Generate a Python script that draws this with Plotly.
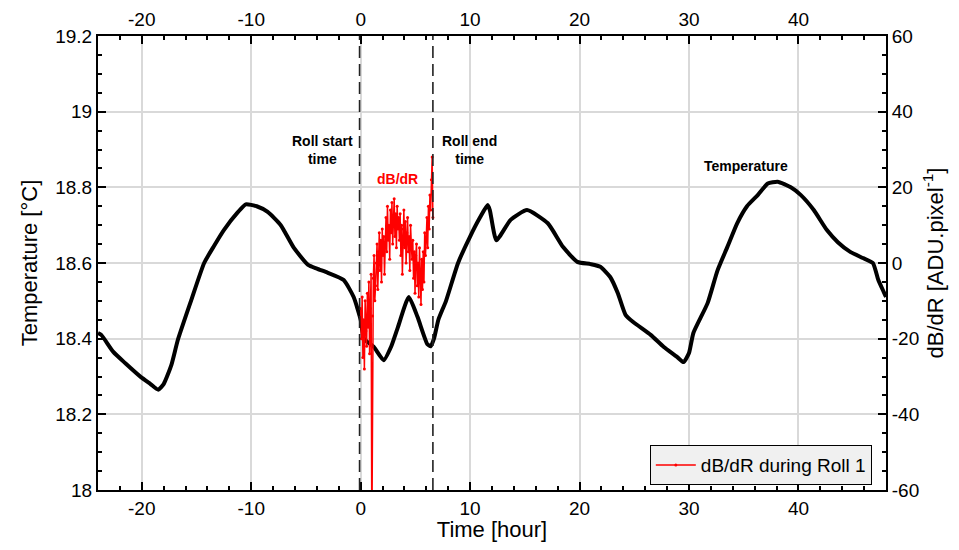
import numpy as np
import plotly.graph_objects as go

# ---------------- data ----------------
temp_time = [-24, -23.7, -22.6, -21.5, -20.1, -19.2, -18.5, -18.0, -17.3, -16.7, -15.5, -14.3,
             -13.4, -12.5, -11.2, -10.5, -9.5, -8.5, -7.3, -6.1, -4.8, -4.0, -3.0, -1.55, -0.64,
             0, 0.3, 1.2, 2.1, 2.8, 3.4, 4.4, 5.2, 6.1, 6.4, 6.7, 7.1, 7.8, 8.9, 10.0, 10.9, 11.6,
             11.8, 12.4, 13.7, 15.2, 17.1, 18.5, 19.8, 21.0, 21.9, 22.8, 23.5, 24.2, 24.9, 26.5,
             27.7, 28.9, 29.5, 30.0, 30.4, 31.7, 32.6, 33.5, 34.4, 35.3, 36.3, 37.2, 38.1, 39.3,
             40.2, 41.4, 42.6, 43.6, 44.7, 45.9, 46.8, 47.3, 47.8, 48.0]
temp_value = [18.415, 18.41, 18.365, 18.335, 18.299, 18.28, 18.265, 18.28, 18.33, 18.397, 18.50,
              18.60, 18.645, 18.687, 18.735, 18.755, 18.75, 18.735, 18.70, 18.64, 18.595, 18.585,
              18.574, 18.555, 18.51, 18.45, 18.40, 18.378, 18.343, 18.38, 18.43, 18.51, 18.457,
              18.385, 18.38, 18.40, 18.45, 18.50, 18.60, 18.67, 18.72, 18.753, 18.74, 18.66,
              18.714, 18.74, 18.705, 18.642, 18.603, 18.597, 18.59, 18.563, 18.52, 18.463,
              18.444, 18.41, 18.378, 18.352, 18.338, 18.362, 18.415, 18.494, 18.58, 18.642,
              18.705, 18.75, 18.78, 18.81, 18.815, 18.80, 18.78, 18.74, 18.687, 18.655, 18.63,
              18.613, 18.60, 18.555, 18.523, 18.51]

dbdr_value = [-12, -20, -9, -25, -15, -28, -10, -18,
              -22, -8, -17, -5, -24, -12, -3,
              -75,
              -14, -4, 2, -10, -6, 0,
              5, -7, 3, 8, -2, 6, -5, 9, 2, 7, -3, 4,
              12, 3, 15, 6, 10, 1, 14, 8, 16, 5, 11, 17, 7, 13, 4, 15, 9, 12,
              6, 13, 2, 10, -3, 9, 14, 4, 11, 0, 8, 12, 3, 7, -2, 10, 5, 1,
              6, -4, 3, -8, 2, 5, -6, 0, -9, 4, -3, -11, 1, -7, 3, -5, 8, 2,
              6, 12, 4, 15, 9, 18, 14, 22, 28, 12]
dbdr_start, dbdr_end = 0.0, 6.6
dbdr_time = np.linspace(dbdr_start, dbdr_end, len(dbdr_value))

roll_times = [-0.1, 6.6]

x_range = [-24, 48]
x_ticks = [-20, -10, 0, 10, 20, 30, 40]
x_ticklabels = ["-20", "-10", "0", "10", "20", "30", "40"]
y_left_range = [18, 19.2]
y_left_ticks = [18, 18.2, 18.4, 18.6, 18.8, 19, 19.2]
y_left_ticklabels = ["18", "18.2", "18.4", "18.6", "18.8", "19", "19.2"]
y_right_range = [-60, 60]
y_right_ticks = [-60, -40, -20, 0, 20, 40, 60]
y_right_ticklabels = ["-60", "-40", "-20", "0", "20", "40", "60"]

FONT = "Liberation Sans, Arial, sans-serif"

fig = go.Figure()
fig.add_trace(go.Scatter(x=temp_time, y=temp_value, mode="lines",
                         line=dict(color="black", width=4, shape="spline", smoothing=0.5),
                         showlegend=False, name="Temperature"))
fig.add_trace(go.Scatter(x=dbdr_time, y=dbdr_value, mode="lines+markers", yaxis="y2",
                         line=dict(color="#ff0000", width=1.5),
                         marker=dict(color="#ff0000", size=3),
                         name="dB/dR during Roll 1"))
# invisible trace to carry the top axis
fig.add_trace(go.Scatter(x=x_range, y=y_left_range, xaxis="x2", mode="markers",
                         marker=dict(opacity=0), showlegend=False, hoverinfo="skip"))

for t in roll_times:
    fig.add_shape(type="line", xref="x", yref="paper", x0=t, x1=t, y0=0, y1=1,
                  line=dict(color="#222222", width=1.6, dash="12px,6px"))

axis_common = dict(showline=True, linewidth=2, linecolor="black", ticks="inside",
                   tickcolor="black", ticklen=8, tickwidth=1.5, automargin=False,
                   zeroline=False, tickmode="array",
                   tickfont=dict(family=FONT, size=19, color="black"))

fig.update_layout(
    width=943, height=534,
    margin=dict(l=90, r=65, t=28, b=52),
    paper_bgcolor="white", plot_bgcolor="white",
    font=dict(family=FONT, color="black"),
    xaxis=dict(range=x_range, tickvals=x_ticks, ticktext=x_ticklabels,
               showgrid=True, gridcolor="#d9d9d9", gridwidth=2,
               minor=dict(dtick=2, ticks="inside", ticklen=4, tickcolor="black", showgrid=False),
               title=dict(text="Time [hour]", font=dict(family=FONT, size=22), standoff=12),
               **axis_common),
    xaxis2=dict(range=x_range, tickvals=x_ticks, ticktext=x_ticklabels,
                overlaying="x", side="top", showgrid=False,
                minor=dict(dtick=2, ticks="inside", ticklen=4, tickcolor="black", showgrid=False),
                **axis_common),
    yaxis=dict(range=y_left_range, tickvals=y_left_ticks, ticktext=y_left_ticklabels,
               showgrid=True, gridcolor="#d9d9d9", gridwidth=2,
               minor=dict(dtick=0.05, ticks="inside", ticklen=4, tickcolor="black", showgrid=False),
               title=dict(text="Temperature [°C]", font=dict(family=FONT, size=22), standoff=12),
               **axis_common),
    yaxis2=dict(range=y_right_range, tickvals=y_right_ticks, ticktext=y_right_ticklabels,
                overlaying="y", side="right", showgrid=False,
                minor=dict(dtick=5, ticks="inside", ticklen=4, tickcolor="black", showgrid=False),
                title=dict(text="dB/dR [ADU.pixel<sup>-1</sup>]", font=dict(family=FONT, size=22),
                           standoff=6),
                **axis_common),
    legend=dict(x=0.982, y=0.055, xanchor="right", yanchor="middle",
                bgcolor="#f0f0f0", bordercolor="black", borderwidth=1,
                font=dict(family=FONT, size=19, color="black"),
                itemwidth=40, tracegroupgap=0),
    annotations=[
        dict(x=-0.5, y=0.749, xref="x", yref="paper", text="<b>Roll start<br>time</b>",
             xanchor="right", yanchor="middle", align="center", showarrow=False,
             font=dict(family=FONT, size=14, color="black")),
        dict(x=9.95, y=0.749, xref="x", yref="paper", text="<b>Roll end<br>time</b>",
             xanchor="center", yanchor="middle", align="center", showarrow=False,
             font=dict(family=FONT, size=14, color="black")),
        dict(x=3.4, y=0.685, xref="x", yref="paper", text="<b>dB/dR</b>",
             xanchor="center", yanchor="middle", showarrow=False,
             font=dict(family=FONT, size=14, color="#ff0000")),
        dict(x=35.2, y=0.714, xref="x", yref="paper", text="<b>Temperature</b>",
             xanchor="center", yanchor="middle", showarrow=False,
             font=dict(family=FONT, size=14, color="black")),
    ],
)

fig.write_html("out.html")
